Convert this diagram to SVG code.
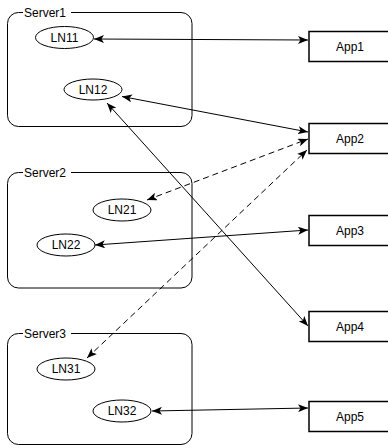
<svg xmlns="http://www.w3.org/2000/svg" width="388" height="448" viewBox="0 0 388 448">
<defs>
<style>
.srv{fill:none;stroke:#000;stroke-width:1}
.lbl{fill:#fff;stroke:none}
.ln{fill:#fff;stroke:#000;stroke-width:1}
.app{fill:#fff;stroke:#000;stroke-width:1.5}
text{font-family:"Liberation Sans",Arial,sans-serif;font-size:12px;fill:#000}
.c{text-anchor:middle}
.e{fill:none;stroke:#000;stroke-width:1}
.d{stroke-dasharray:6 4}
</style>
<marker id="ah" viewBox="0 0 10 8" refX="10" refY="4" markerWidth="10" markerHeight="8" markerUnits="userSpaceOnUse" orient="auto-start-reverse">
<path d="M0,0 L10,4 L0,8 L2.5,4 Z" fill="#000"/>
</marker>
</defs>
<rect width="388" height="448" fill="#fff"/>
<g id="Server1">
<rect class="srv" x="7.5" y="12.5" width="184.5" height="114" rx="11"/>
<rect class="lbl" x="23" y="6" width="48" height="12"/>
<text x="24" y="16.5">Server1</text>
</g>
<g id="Server2">
<rect class="srv" x="7.5" y="172.5" width="184.5" height="115.5" rx="11"/>
<rect class="lbl" x="23" y="166" width="48" height="12"/>
<text x="24" y="176.5">Server2</text>
</g>
<g id="Server3">
<rect class="srv" x="7.5" y="333.5" width="184.5" height="111" rx="11"/>
<rect class="lbl" x="23" y="327" width="48" height="12"/>
<text x="24" y="337.5">Server3</text>
</g>
<g id="LN11"><ellipse class="ln" cx="64.5" cy="37.5" rx="29" ry="11"/><text class="c" x="64.5" y="41.5">LN11</text></g>
<g id="LN12"><ellipse class="ln" cx="93" cy="89.5" rx="29" ry="10.5"/><text class="c" x="93" y="93.5">LN12</text></g>
<g id="LN21"><ellipse class="ln" cx="122" cy="210" rx="29" ry="11"/><text class="c" x="122" y="214">LN21</text></g>
<g id="LN22"><ellipse class="ln" cx="66" cy="245" rx="29" ry="11"/><text class="c" x="66" y="249">LN22</text></g>
<g id="LN31"><ellipse class="ln" cx="66" cy="369" rx="29" ry="11"/><text class="c" x="66" y="373">LN31</text></g>
<g id="LN32"><ellipse class="ln" cx="122" cy="411" rx="29" ry="11"/><text class="c" x="122" y="415">LN32</text></g>
<g id="App1"><rect class="app" x="309" y="31.5" width="82" height="30"/><text class="c" x="350" y="50.5">App1</text></g>
<g id="App2"><rect class="app" x="309" y="123.5" width="82" height="30"/><text class="c" x="350" y="142.5">App2</text></g>
<g id="App3"><rect class="app" x="309" y="215.5" width="82" height="30"/><text class="c" x="350" y="234.5">App3</text></g>
<g id="App4"><rect class="app" x="309" y="311.5" width="82" height="30"/><text class="c" x="350" y="330.5">App4</text></g>
<g id="App5"><rect class="app" x="309" y="401.5" width="82" height="30"/><text class="c" x="350" y="420.5">App5</text></g>
<g id="connectors">
<line class="e" x1="94" y1="39" x2="308" y2="40" marker-start="url(#ah)" marker-end="url(#ah)"/>
<line class="e" x1="122" y1="96.5" x2="308" y2="132" marker-start="url(#ah)" marker-end="url(#ah)"/>
<line class="e" x1="107" y1="103" x2="308" y2="326" marker-start="url(#ah)" marker-end="url(#ah)"/>
<line class="e d" x1="147" y1="200" x2="308" y2="139" marker-start="url(#ah)" marker-end="url(#ah)"/>
<line class="e d" x1="87" y1="358" x2="307" y2="150" marker-start="url(#ah)" marker-end="url(#ah)"/>
<line class="e" x1="95" y1="245" x2="308" y2="230" marker-start="url(#ah)" marker-end="url(#ah)"/>
<line class="e" x1="152" y1="411" x2="308" y2="408" marker-start="url(#ah)" marker-end="url(#ah)"/>
</g>
</svg>
